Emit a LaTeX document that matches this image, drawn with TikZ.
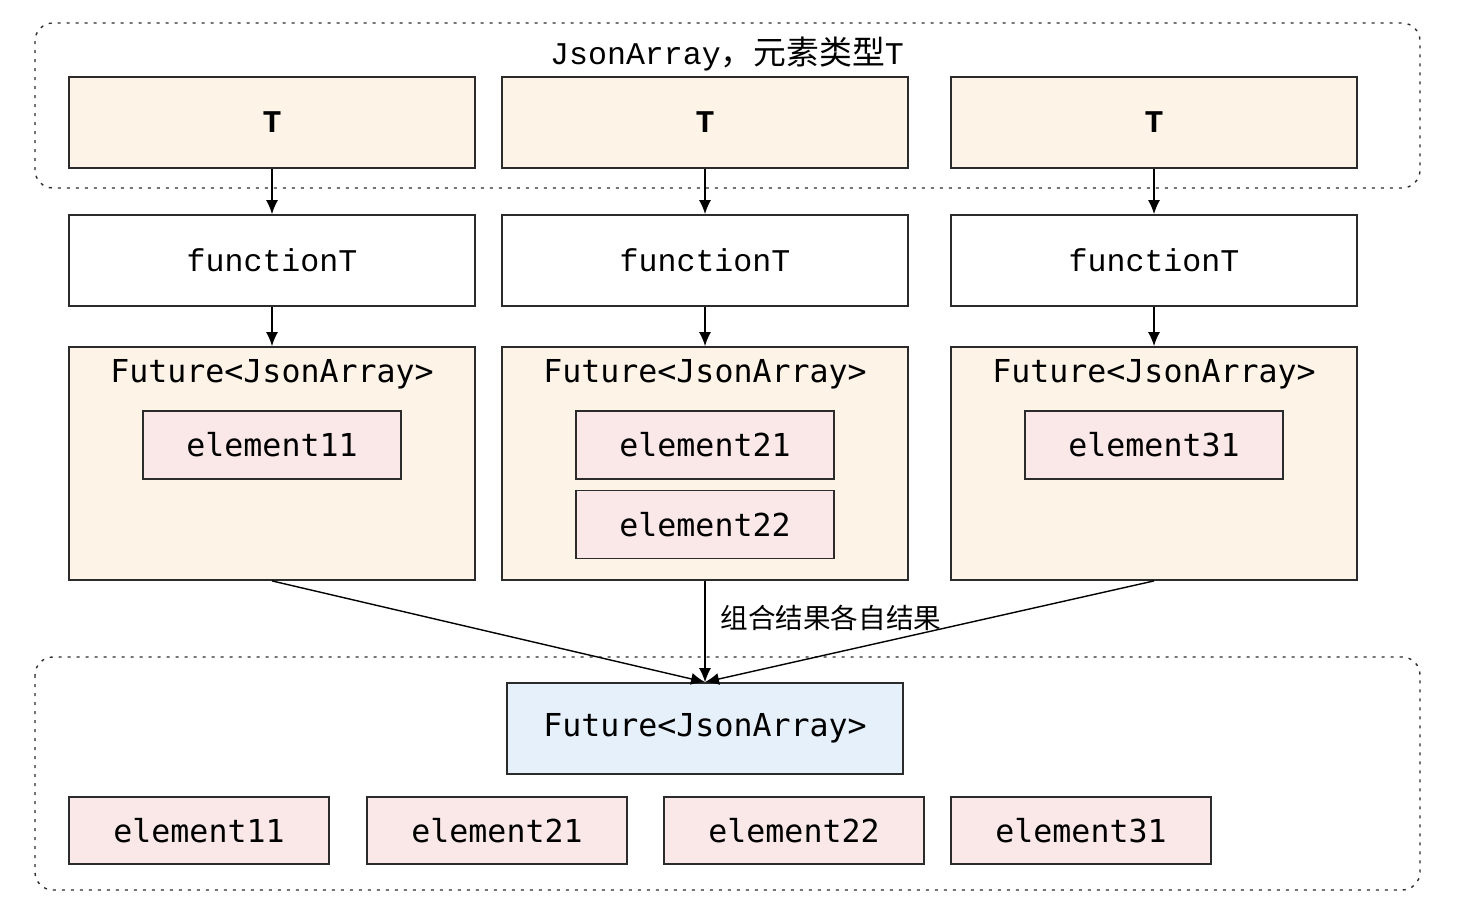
\documentclass[tikz,border=0pt]{standalone}
\usepackage{fontspec}
\usepackage{tikz}
\usetikzlibrary{arrows.meta}
\newfontfamily\cmono{Liberation Mono}
\newfontfamily\smono{DejaVu Sans Mono}
\newfontfamily\cjk{Noto Sans CJK SC}
\definecolor{boxorange}{HTML}{FDF3E7}
\definecolor{boxpink}{HTML}{FAE8E8}
\definecolor{boxblue}{HTML}{E6F0FA}
\definecolor{edge}{HTML}{2B2B2B}

\begin{document}
\begin{tikzpicture}[x=0.5pt,y=-0.5pt,
  >={Latex[length=7pt,width=6pt]},
  grp/.style={draw=edge,line width=0.7pt,dash pattern=on 1.5pt off 3pt,rounded corners=9pt},
  tbox/.style={draw=edge,line width=0.9pt,fill=boxorange,minimum width=203pt,minimum height=45.5pt,font=\cmono\fontsize{15.8}{18}\selectfont\bfseries},
  fbox/.style={draw=edge,line width=0.9pt,fill=white,minimum width=203pt,minimum height=45.5pt,font=\cmono\fontsize{15.8}{18}\selectfont},
  futbox/.style={draw=edge,line width=0.9pt,fill=boxorange,minimum width=203pt,minimum height=116.5pt},
  elbox/.style={draw=edge,line width=0.9pt,fill=boxpink,minimum width=129pt,minimum height=34pt,font=\smono\fontsize{15.8}{18}\selectfont},
  futtext/.style={inner sep=0pt,font=\smono\fontsize{15.8}{18}\selectfont}]
\useasboundingbox (0,0) rectangle (1460,922);
\draw[grp] (35,23) rectangle (1420,188);
\draw[grp] (35,657) rectangle (1420,890);
\node[inner sep=0pt] (title) at (727,54) {{\cmono\fontsize{15.8}{18}\selectfont JsonArray}{\cjk\fontsize{16.4}{18}\selectfont ，元素类型}{\cmono\fontsize{15.8}{18}\selectfont T}};
\node[tbox] (t1) at (272,122.5) {T};
\node[tbox] (t2) at (705,122.5) {T};
\node[tbox] (t3) at (1154,122.5) {T};
\node[fbox] (f1) at (272,260.5) {functionT};
\node[fbox] (f2) at (705,260.5) {functionT};
\node[fbox] (f3) at (1154,260.5) {functionT};
\node[futbox] (fu1) at (272,463.5) {};
\node[futbox] (fu2) at (705,463.5) {};
\node[futbox] (fu3) at (1154,463.5) {};
\node[futtext] (fl1) at (272,374) {Future<JsonArray>};
\node[futtext] (fl2) at (705,374) {Future<JsonArray>};
\node[futtext] (fl3) at (1154,374) {Future<JsonArray>};
\node[elbox] (e11) at (272,445) {element11};
\node[elbox] (e21) at (705,445) {element21};
\node[elbox] (e22) at (705,524.5) {element22};
\node[elbox] (e31) at (1154,445) {element31};
\node[draw=edge,line width=0.9pt,fill=boxblue,minimum width=198pt,minimum height=45.5pt,font=\smono\fontsize{15.8}{18}\selectfont] (res) at (705,728.5) {Future<JsonArray>};
\node[elbox,minimum width=130pt,minimum height=33.5pt] (r11) at (199,830.5) {element11};
\node[elbox,minimum width=130pt,minimum height=33.5pt] (r21) at (497,830.5) {element21};
\node[elbox,minimum width=130pt,minimum height=33.5pt] (r22) at (794,830.5) {element22};
\node[elbox,minimum width=130pt,minimum height=33.5pt] (r31) at (1081,830.5) {element31};
\draw[->,line width=0.7pt] (t1) -- (f1);
\draw[->,line width=0.7pt] (t2) -- (f2);
\draw[->,line width=0.7pt] (t3) -- (f3);
\draw[->,line width=0.7pt] (f1) -- (fu1);
\draw[->,line width=0.7pt] (f2) -- (fu2);
\draw[->,line width=0.7pt] (f3) -- (fu3);
\draw[->,line width=0.7pt] (fu1.south) -- (res.north);
\draw[->,line width=0.7pt] (fu2.south) -- (res.north);
\draw[->,line width=0.7pt] (fu3.south) -- (res.north);
\node[anchor=west,inner sep=0pt,font=\cjk\fontsize{13.8}{16}\selectfont] (comb) at (720,618) {组合结果各自结果};
\end{tikzpicture}
\end{document}
